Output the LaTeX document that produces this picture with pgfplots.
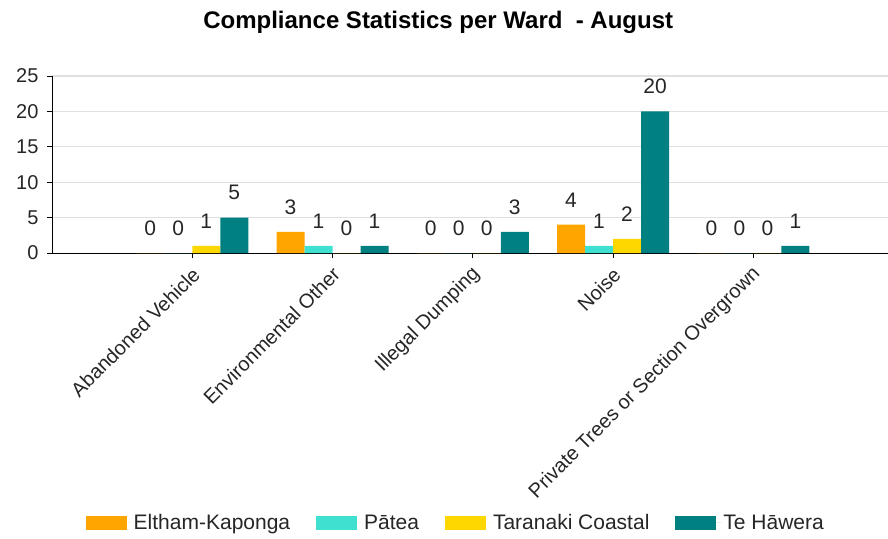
\documentclass[border=0pt]{standalone}
\usepackage{pgfplots}
\pgfplotsset{compat=1.18}
\usepackage{fontspec}
\setmainfont{Liberation Sans}
\definecolor{cE}{HTML}{FFA500}
\definecolor{cP}{HTML}{40E0D0}
\definecolor{cT}{HTML}{FFD700}
\definecolor{cH}{HTML}{008080}
\pgfplotsset{
  mybar/.style={fill=#1, draw=none,
    legend image code/.code={\path[fill=#1] (0pt,-7pt) rectangle (41pt,7pt);\path (0pt,0pt) -- (46pt,0pt);}},
}
\begin{document}
\begin{tikzpicture}[x=1pt,y=1pt]
\useasboundingbox (0,0) rectangle (888,538);
\begin{axis}[
  at={(52pt,285pt)}, anchor=south west,
  scale only axis, width=836pt, height=177pt,
  xmin=-1, xmax=4.96, ymin=0, ymax=25,
  ybar=0pt, bar width=28pt,
  axis x line=bottom, axis y line=left,
  axis line style={-, black, line width=0.9pt},
  ytick={0,5,...,25},
  xtick={0,1,2,3,4},
  xticklabels={Abandoned Vehicle, Environmental Other, Illegal Dumping, Noise, Private Trees or Section Overgrown},
  tick align=outside, major tick length=5pt,
  tick style={black, line width=0.9pt},
  ymajorgrids, grid style={black!12, line width=1pt},
  /pgf/number format/assume math mode=true,
  tick label style={font=\fontsize{20}{24}\selectfont, text=black!85},
  yticklabel style={xshift=-5pt},
  xticklabel style={xshift=4pt, yshift=-13pt, rotate=45, anchor=east, inner sep=0pt},
  nodes near coords,
  nodes near coords style={font=\fontsize{21}{25}\selectfont, text=black!85, anchor=south, yshift=14pt},
  title={Compliance Statistics per Ward \ - August},
  title style={font=\bfseries\fontsize{24}{28}\selectfont, at={(0.462,1.305)}, anchor=center, yshift=-6pt},
  legend style={at={(0.483,-1.525)}, anchor=center, draw=none,
    font=\fontsize{21}{25}\selectfont, text=black!85,
    legend columns=-1,
    /tikz/every even column/.append style={column sep=24pt}},
]
\addplot[mybar=cE] coordinates {(0,0) (1,3) (2,0) (3,4) (4,0)};
\addplot[mybar=cP] coordinates {(0,0) (1,1) (2,0) (3,1) (4,0)};
\addplot[mybar=cT] coordinates {(0,1) (1,0) (2,0) (3,2) (4,0)};
\addplot[mybar=cH] coordinates {(0,5) (1,1) (2,3) (3,20) (4,1)};
\legend{Eltham-Kaponga, Pātea, Taranaki Coastal, Te Hāwera}
\end{axis}
\end{tikzpicture}
\end{document}
